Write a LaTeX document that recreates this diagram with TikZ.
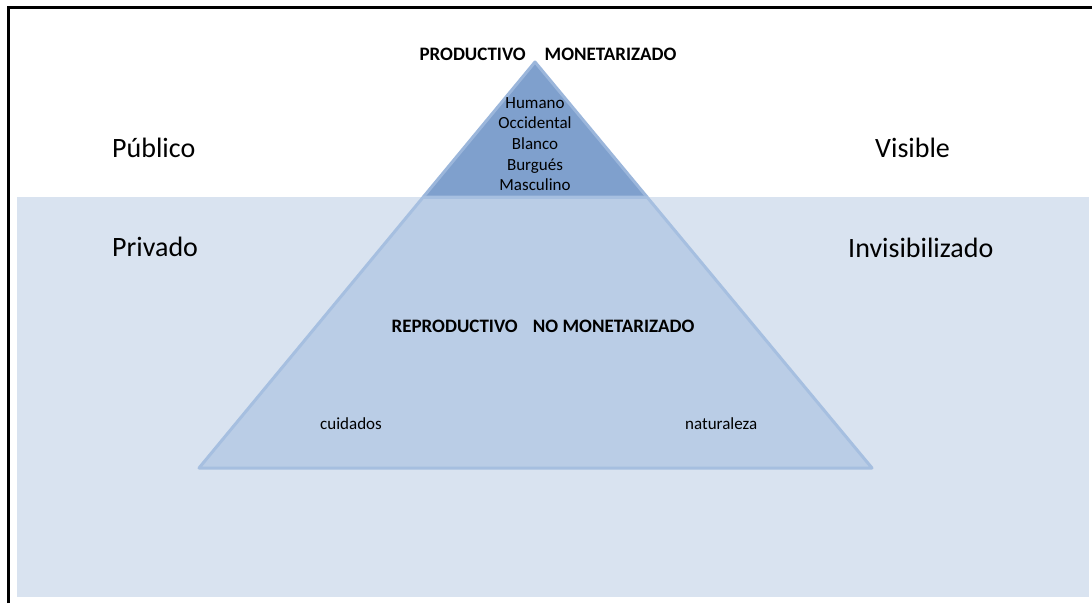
\documentclass[tikz,border=0pt]{standalone}
\usepackage{fontspec}
\setmainfont{Carlito}
\definecolor{bandbg}{HTML}{D9E3F0}
\definecolor{lowfill}{HTML}{BACDE6}
\definecolor{lowedge}{HTML}{A6BFE0}
\definecolor{topfill}{HTML}{7FA0CD}
\definecolor{topedge}{HTML}{9BB6DB}
\tikzset{
  big/.style={font=\fontsize{28}{34}\selectfont, anchor=base west, inner sep=0pt},
  hdr/.style={font=\fontsize{19}{23}\selectfont\bfseries, anchor=base, inner sep=0pt},
  small/.style={font=\fontsize{17}{21}\selectfont, anchor=base west, inner sep=0pt},
  stack/.style={font=\fontsize{17}{20.7}\selectfont, align=center, anchor=north, inner sep=0pt}
}
\begin{document}
\begin{tikzpicture}[x=1pt,y=-1pt]
\useasboundingbox (0,0) rectangle (1092,603);
\fill[white] (0,0) rectangle (1092,603);
% frame
\draw[black, line width=3pt] (8.5,603) -- (8.5,7.5) -- (1092,7.5);
% lower band
\fill[bandbg] (17,197) rectangle (1089,597);
% pyramid
\coordinate (apex) at (535,62);
\coordinate (bl) at (199,468);
\coordinate (br) at (872,468);
\coordinate (cl) at (423.3,197);
\coordinate (cr) at (647,197);
\fill[topfill] (apex) -- (cr) -- (cl) -- cycle;
\draw[topedge, line width=3pt, line join=round] (cl) -- (apex) -- (cr);
\filldraw[fill=lowfill, draw=lowedge, line width=3pt, line join=round] (cl) -- (cr) -- (br) -- (bl) -- cycle;
\draw[lowedge, line width=3pt] (cl) -- (cr);
% labels
\node[big] (pub) at (112,157) {Público};
\node[big] (priv) at (112,256) {Privado};
\node[big] (vis) at (875,157) {Visible};
\node[big] (invis) at (848,257) {Invisibilizado};
\node[hdr] (prod) at (548,60) {PRODUCTIVO\hspace{1em}MONETARIZADO};
\node[stack] (hum) at (535,97) {Humano\\Occidental\\Blanco\\Burgués\\Masculino};
\node[hdr] (repro) at (543,332) {REPRODUCTIVO\hspace{0.8em}NO MONETARIZADO};
\node[small] (cuid) at (320,429) {cuidados};
\node[small] (nat) at (685,429) {naturaleza};
\end{tikzpicture}
\end{document}
